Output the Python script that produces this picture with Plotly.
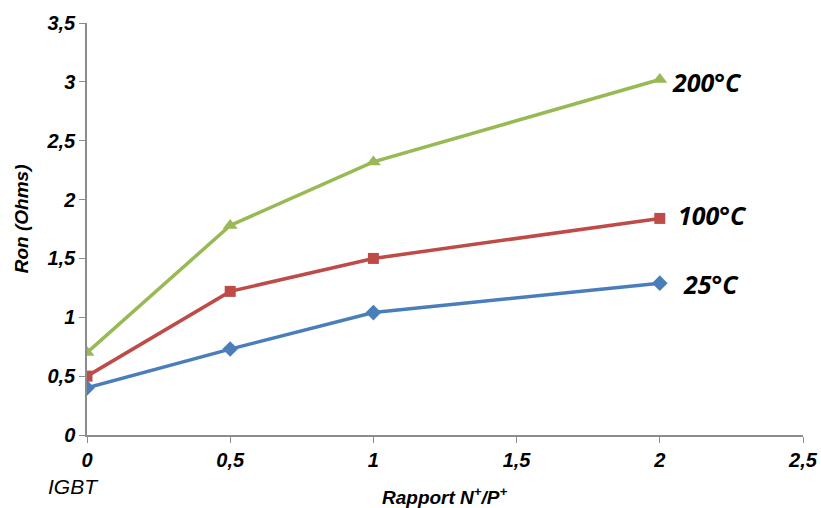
import plotly.graph_objects as go

x_vals = [0, 0.5, 1, 2]
r_25 = [0.40, 0.73, 1.04, 1.29]
r_100 = [0.50, 1.22, 1.50, 1.84]
r_200 = [0.70, 1.78, 2.32, 3.02]
series_names = ["25°C", "100°C", "200°C"]
x_ticks = [0, 0.5, 1, 1.5, 2, 2.5]
x_ticktext = ["0", "0,5", "1", "1,5", "2", "2,5"]
y_ticks = [0, 0.5, 1, 1.5, 2, 2.5, 3, 3.5]
y_ticktext = ["0", "0,5", "1", "1,5", "2", "2,5", "3", "3,5"]

fig = go.Figure()
styles = [
    (r_25, "#4a7ebb", "diamond", 12),
    (r_100, "#be4b48", "square", 11),
    (r_200, "#98b954", "triangle-up", 13),
]
for name, (ys, col, sym, sz) in zip(series_names, styles):
    fig.add_trace(go.Scatter(x=x_vals, y=ys, mode="lines+markers", name=name,
                             line=dict(color=col, width=3.5),
                             marker=dict(color=col, symbol=sym, size=sz)))

label_font = dict(family="Open Sans", size=25, color="black")
offsets = [(2, 1.29, 21, -1), (2, 1.84, 16, 3), (2, 3.02, 10, -2)]
for name, (xv, yv, dx, dy) in zip(series_names, offsets):
    fig.add_annotation(x=xv, y=yv, xref="x", yref="y", text=f"<b><i>{name}</i></b>",
                       showarrow=False, xanchor="left", yanchor="middle", xshift=dx,
                       yshift=dy, font=label_font)

fig.add_annotation(x=0, y=-0.126, xref="x", yref="paper", text="<i>IGBT</i>",
                   showarrow=False, xanchor="center", yanchor="middle", xshift=-14,
                   font=dict(family="Liberation Sans", size=21, color="black"))
fig.add_annotation(x=0.5, y=-0.148, xref="paper", yref="paper",
                   text="<b><i>Rapport N<sup>+</sup>/P<sup>+</sup></i></b>",
                   showarrow=False, xanchor="center", yanchor="middle",
                   font=dict(family="Liberation Sans", size=19, color="black"))
fig.add_annotation(x=-0.092, y=0.524, xref="paper", yref="paper",
                   text="<b><i>Ron (Ohms)</i></b>", textangle=-90,
                   showarrow=False, xanchor="center", yanchor="middle",
                   font=dict(family="Liberation Sans", size=19, color="black"))

axis_common = dict(showgrid=False, zeroline=False, showline=True, linecolor="#8c8c8c",
                   linewidth=1.5, ticks="outside", tickcolor="#8c8c8c", ticklen=6,
                   automargin=False,
                   tickfont=dict(family="Liberation Sans", size=20, color="black"))
fig.update_xaxes(range=[0, 2.5], tickvals=x_ticks,
                 ticktext=[f"<b><i>{t}</i></b>" for t in x_ticktext], **axis_common)
fig.update_yaxes(range=[0, 3.5], tickvals=y_ticks,
                 ticktext=[f"<b><i>{t}</i></b>" for t in y_ticktext], **axis_common)
fig.update_layout(width=821, height=508, margin=dict(l=87, r=18, t=23, b=73),
                  plot_bgcolor="white", paper_bgcolor="white", showlegend=False)
fig.write_html("out.html", config={"displayModeBar": False},
               post_script="document.body.style.margin='0';document.body.style.overflow='hidden';")
